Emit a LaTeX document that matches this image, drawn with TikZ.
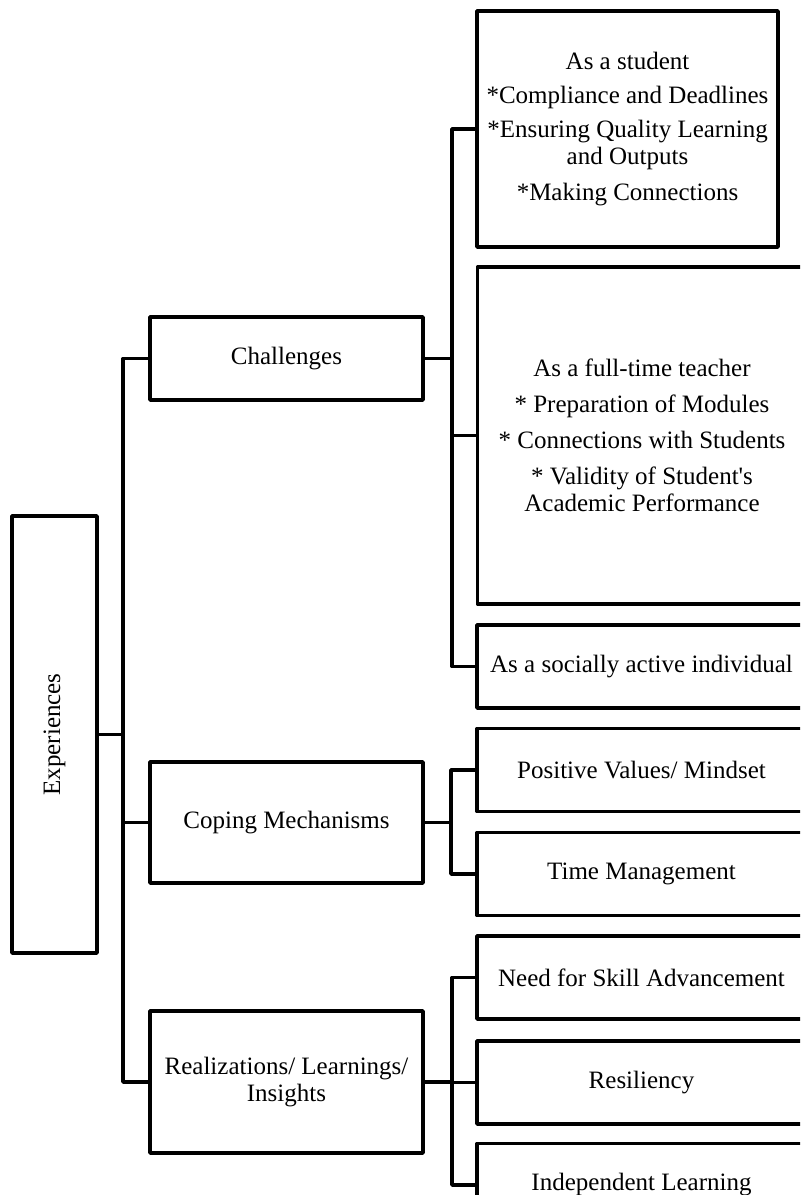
\documentclass[tikz,border=0pt]{standalone}
\usepackage{fontspec}
\setmainfont{Liberation Serif}

\begin{document}
\begin{tikzpicture}[x=0.5pt,y=-0.5pt,
  box/.style={draw, line width=1.8pt, line join=round, inner sep=0pt, align=center,
    font=\fontsize{12.5}{13.5}\selectfont},
  leftbox/.style={box, minimum width=136.5pt},
  rightbox/.style={box, minimum width=164.5pt, minimum height=41.5pt},
  link/.style={line width=1.8pt, line join=round}]
  % Fix the page size
  \path[use as bounding box, clip] (0,0) rectangle (800,1195);

  % Draw the root box (text turned up)
  \node[box, rotate=90, minimum width=218.5pt, minimum height=42.5pt] (exp) at (54.5,734.5) {Experiences};

  % Draw the three boxes of the middle column
  \node[leftbox, minimum height=41.5pt] (chal) at (286.5,358.5) {Challenges};
  \node[leftbox, minimum height=60.5pt] (cope) at (286.5,822.5) {Coping Mechanisms};
  \node[leftbox, minimum height=71pt] (real) at (286.5,1082) {Realizations/ Learnings/\\Insights};

  % Draw the boxes under Challenges
  \node[box, minimum width=150.5pt, minimum height=118pt] (stud) at (627.5,129)
    {As a student\\[3.5pt]*Compliance and Deadlines\\[3.5pt]*Ensuring Quality Learning\\and Outputs\\[4.5pt]*Making Connections};
  \node[box, minimum width=164.5pt, minimum height=168.5pt] (teach) at (642,435.5)
    {As a full-time teacher\\[4.5pt]* Preparation of Modules\\[4.5pt]* Connections with Students\\[4.5pt]* Validity of Student\textquotesingle s\\Academic Performance};
  \node[rightbox] (soc) at (641.5,666.5) {As a socially active individual};

  % Draw the boxes under Coping Mechanisms
  \node[rightbox] (pos) at (641.5,770) {Positive Values/ Mindset};
  \node[rightbox] (time) at (641.5,874) {Time Management};

  % Draw the boxes under Realizations
  \node[rightbox] (skill) at (641.5,977.5) {Need for Skill Advancement};
  \node[rightbox] (res) at (641.5,1082.5) {Resiliency};
  \node[rightbox] (ind) at (641.5,1185) {Independent Learning};

  % Join points of the brackets
  \coordinate (expjoin) at (123,734.5);
  \coordinate (chaljoin) at (452,358.5);
  \coordinate (copejoin) at (451,822.5);
  \coordinate (realjoin) at (452,1082);

  % Draw the bracket from the root (exp.south is its right side)
  \draw[link] (exp.south) -- (expjoin);
  \draw[link] (chal.west) -| (expjoin) |- (real.west);
  \draw[link] (expjoin |- cope.west) -- (cope.west);

  % Draw the bracket for Challenges
  \draw[link] (chal.east) -- (chaljoin);
  \draw[link] (stud.west) -| (chaljoin) |- (soc.west);
  \draw[link] (chaljoin |- teach.west) -- (teach.west);

  % Draw the bracket for Coping Mechanisms
  \draw[link] (cope.east) -- (copejoin);
  \draw[link] (pos.west) -| (copejoin) |- (time.west);

  % Draw the bracket for Realizations
  \draw[link] (real.east) -- (realjoin);
  \draw[link] (skill.west) -| (realjoin) |- (ind.west);
  \draw[link] (realjoin |- res.west) -- (res.west);
\end{tikzpicture}
\end{document}
